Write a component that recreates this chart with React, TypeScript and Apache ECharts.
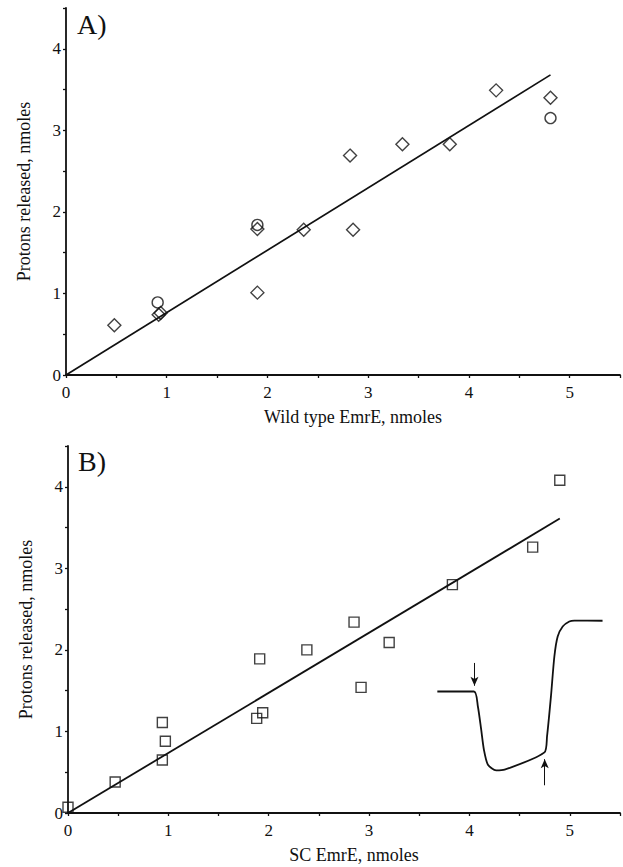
import React, { useEffect, useRef } from "react";
import * as echarts from "echarts";

// Panel A: wild type EmrE
const wtDiamondX = [0.48, 0.92, 0.94, 1.9, 1.9, 2.36, 2.82, 2.85, 3.34, 3.81, 4.27, 4.81];
const wtDiamondY = [0.61, 0.74, 0.76, 1.79, 1.01, 1.78, 2.69, 1.78, 2.83, 2.83, 3.49, 3.4];
const wtCircleX = [0.91, 1.9, 4.81];
const wtCircleY = [0.89, 1.84, 3.15];
const wtFitX = [0, 4.81];
const wtFitY = [0, 3.68];

// Panel B: SC EmrE
const scX = [0.0, 0.47, 0.94, 0.97, 0.94, 1.91, 1.88, 1.94, 2.38, 2.85, 2.92, 3.2, 3.83, 4.63, 4.9];
const scY = [0.07, 0.38, 1.11, 0.88, 0.65, 1.89, 1.16, 1.23, 2.0, 2.34, 1.54, 2.09, 2.8, 3.26, 4.08];
const scFitX = [0, 4.9];
const scFitY = [0, 3.61];

// Inset trace (drawn in panel B's data space)
const traceX = [3.68, 4.045, 4.084, 4.117, 4.144, 4.184, 4.266, 4.35, 4.747, 4.773, 4.812, 4.846, 4.879, 4.929, 4.995, 5.045, 5.326];
const traceY = [1.49, 1.49, 1.306, 1.021, 0.776, 0.592, 0.522, 0.531, 0.743, 0.939, 1.429, 1.919, 2.164, 2.287, 2.348, 2.36, 2.357];
const arrowDown = [[4.05, 1.84], [4.05, 1.56]];
const arrowUp = [[4.75, 0.34], [4.75, 0.66]];

const xTicks = [0, 1, 2, 3, 4, 5];
const yTicks = [0, 1, 2, 3, 4];
const panelLabels = ["A)", "B)"];
const xNames = ["Wild type EmrE, nmoles", "SC EmrE, nmoles"];
const yName = "Protons released, nmoles";

const FONT = "'Liberation Serif', 'DejaVu Serif', 'Times New Roman', serif";
const INK = "#111";

const zip = (xs: number[], ys: number[]) => xs.map((x, i) => [x, ys[i]]);

function xAxis(gridIndex: number, name: string) {
  return {
    type: "value",
    gridIndex,
    min: 0,
    max: 5.5,
    interval: 0.5,
    name,
    nameLocation: "middle",
    nameGap: 33,
    nameTextStyle: { fontFamily: FONT, fontSize: 18, color: INK, padding: [0, 0, 0, 20] },
    axisLine: { show: true, onZero: false, lineStyle: { color: INK, width: 1.8 } },
    axisTick: { show: true, length: 3, lineStyle: { color: INK, width: 1.3 } },
    axisLabel: {
      fontFamily: FONT,
      fontSize: 17,
      color: INK,
      margin: 9,
      formatter: (v: number) => (xTicks.includes(v) ? String(v) : ""),
    },
    splitLine: { show: false },
  };
}

function yAxis(gridIndex: number) {
  return {
    type: "value",
    gridIndex,
    min: 0,
    max: 4.5,
    interval: 0.5,
    name: yName,
    nameLocation: "middle",
    nameGap: 33,
    nameRotate: 90,
    nameTextStyle: { fontFamily: FONT, fontSize: 18, color: INK },
    axisLine: { show: true, onZero: false, lineStyle: { color: INK, width: 1.8 } },
    axisTick: { show: true, length: 3, lineStyle: { color: INK, width: 1.3 } },
    axisLabel: {
      fontFamily: FONT,
      fontSize: 17,
      color: INK,
      margin: 5,
      formatter: (v: number) => (yTicks.includes(v) ? String(v) : ""),
    },
    splitLine: { show: false },
  };
}

const markerStyle = { color: "none", borderColor: INK, borderWidth: 1.4 };

export default function App() {
  const ref = useRef<HTMLDivElement>(null);
  useEffect(() => {
    if (!ref.current) return;
    const chart = echarts.init(ref.current, null, { renderer: "svg" });
    chart.setOption({
      animation: false,
      backgroundColor: "#fff",
      grid: [
        { left: 66, top: 8, width: 554, height: 367 },
        { left: 68, top: 446, width: 553, height: 367 },
      ],
      xAxis: [xAxis(0, xNames[0]), xAxis(1, xNames[1])],
      yAxis: [yAxis(0), yAxis(1)],
      graphic: [
        {
          type: "text",
          left: 77,
          top: 10,
          style: { text: panelLabels[0], font: `28px ${FONT}`, fill: INK },
        },
        {
          type: "text",
          left: 78,
          top: 447,
          style: { text: panelLabels[1], font: `28px ${FONT}`, fill: INK },
        },
      ],
      series: [
        {
          type: "line",
          xAxisIndex: 0,
          yAxisIndex: 0,
          data: zip(wtFitX, wtFitY),
          showSymbol: false,
          symbol: "none",
          lineStyle: { color: INK, width: 1.7 },
        },
        {
          type: "scatter",
          xAxisIndex: 0,
          yAxisIndex: 0,
          data: zip(wtDiamondX, wtDiamondY),
          symbol: "diamond",
          symbolSize: 13,
          itemStyle: markerStyle,
        },
        {
          type: "scatter",
          xAxisIndex: 0,
          yAxisIndex: 0,
          data: zip(wtCircleX, wtCircleY),
          symbol: "circle",
          symbolSize: 11,
          itemStyle: markerStyle,
        },
        {
          type: "line",
          xAxisIndex: 1,
          yAxisIndex: 1,
          data: zip(scFitX, scFitY),
          showSymbol: false,
          symbol: "none",
          lineStyle: { color: INK, width: 1.8 },
        },
        {
          type: "scatter",
          xAxisIndex: 1,
          yAxisIndex: 1,
          data: zip(scX, scY),
          symbol: "rect",
          symbolSize: 10,
          itemStyle: markerStyle,
        },
        {
          type: "line",
          xAxisIndex: 1,
          yAxisIndex: 1,
          data: zip(traceX, traceY),
          showSymbol: false,
          symbol: "none",
          smooth: 0.25,
          lineStyle: { color: INK, width: 1.8 },
          markLine: {
            silent: true,
            symbol: ["none", "arrow"],
            symbolSize: [6, 9],
            label: { show: false },
            lineStyle: { color: INK, width: 1, type: "solid" },
            data: [
              [{ coord: arrowDown[0] }, { coord: arrowDown[1] }],
              [{ coord: arrowUp[0] }, { coord: arrowUp[1] }],
            ],
          },
        },
      ],
    });
    return () => chart.dispose();
  }, []);
  return (
    <div
      ref={ref}
      style={{ position: "fixed", left: 0, top: 0, width: 623, height: 867, background: "#fff" }}
    />
  );
}
